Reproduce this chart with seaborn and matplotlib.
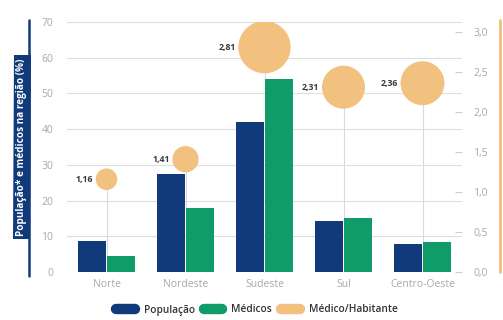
import numpy as np
import pandas as pd
import matplotlib
matplotlib.use("Agg")
import matplotlib.pyplot as plt
import seaborn as sns
from matplotlib.lines import Line2D

regioes = ["Norte", "Nordeste", "Sudeste", "Sul", "Centro-Oeste"]
populacao = [8.7, 27.5, 42.0, 14.3, 7.8]
medicos = [4.5, 18.0, 54.0, 15.2, 8.3]
medico_hab = [1.16, 1.41, 2.81, 2.31, 2.36]
left_ticks = [0, 10, 20, 30, 40, 50, 60, 70]
right_ticks = [0.0, 0.5, 1.0, 1.5, 2.0, 2.5, 3.0]

NAVY = "#103a7a"
GREEN = "#109c68"
ORANGE = "#f2c07f"
GRAY = "#a8a8a8"

sns.set_theme(style="white")
plt.rcParams["font.family"] = ["Open Sans", "DejaVu Sans"]

fig = plt.figure(figsize=(5.03, 3.2), dpi=100)
ax = fig.add_axes([67/503, 1-272/320, (462-67)/503, (272-22)/320])

df = pd.DataFrame({
    "Região": regioes * 2,
    "valor": populacao + medicos,
    "serie": ["População"] * 5 + ["Médicos"] * 5,
})

ax2 = ax.twinx()
ax.set_zorder(2)
ax.patch.set_visible(False)
ax2.set_zorder(1)

for i, v in enumerate(medico_hab):
    ax.plot([i, i], [0, v * 70 / 3.125], color="#d9d9d9", lw=0.8, zorder=0.5)

sns.barplot(data=df, x="Região", y="valor", hue="serie",
            palette=[NAVY, GREEN], width=0.74, gap=0.05, ax=ax,
            legend=False, zorder=3, edgecolor="none", saturation=1)

# bubbles (Médico/Habitante), scaled onto the right axis range
areas = [(13.4 * v) ** 2 for v in medico_hab]
bdf = pd.DataFrame({"x": list(range(5)), "y": [v * 70 / 3.125 for v in medico_hab], "a": areas})
sns.scatterplot(data=bdf, x="x", y="y", size="a", sizes=(min(areas), max(areas)),
                color=ORANGE, edgecolor="none", ax=ax, legend=False, zorder=5, alpha=1)
for i, v in enumerate(medico_hab):
    r = 6.7 * v
    ax.annotate(f"{v:.2f}".replace(".", ","), (i, v * 70 / 3.125),
                xytext=(-(r + 2), 0), textcoords="offset points",
                ha="right", va="center", fontsize=6.3, fontweight="bold",
                color="#3a3a3a", zorder=6)

ax.set_ylim(0, 70)
ax.set_xlim(-0.5, 4.5)
ax.set_xticks(range(5))
ax.set_xticklabels(regioes)
ax.set_yticks(left_ticks)
ax.set_yticklabels([str(t) for t in left_ticks], color=GRAY, fontsize=7.5)
ax.yaxis.grid(True, color="#dedede", lw=0.8)
ax.set_axisbelow(True)
ax.tick_params(axis="y", length=0, pad=10)
ax.tick_params(axis="x", length=0, pad=5, labelsize=7.5, labelcolor=GRAY)
ax.set_xlabel("")
ax.set_ylabel("")
for s in ax.spines.values():
    s.set_visible(False)

ax2.set_ylim(0, 3.125)
ax2.set_yticks(right_ticks)
ax2.set_yticklabels([f"{t:.1f}".replace(".", ",") for t in right_ticks],
                    color=GRAY, fontsize=7.5)
ax2.tick_params(axis="y", direction="in", length=5, width=0.8, color="#cccccc", pad=8)
for s in ax2.spines.values():
    s.set_visible(False)
ax2.grid(False)
ax2.set_ylabel("")

# left label box & line
fig.add_artist(Line2D([29/503, 29/503], [1-20/320, 1-276/320], color=NAVY, lw=1.8))
fig.text(22/503, 1-147/320, "População* e médicos na região (%)", rotation=90,
         ha="center", va="center", color="white", fontsize=7.2, fontweight="bold",
         bbox=dict(boxstyle="square,pad=0.3", fc=NAVY, ec="none"))
# right orange line
fig.add_artist(Line2D([500/503, 500/503], [1-20/320, 1-272/320], color=ORANGE, lw=2))

handles = [Line2D([0], [0], color=c, lw=7.5, solid_capstyle="round") for c in (NAVY, GREEN, ORANGE)]
fig.legend(handles, ["População", "Médicos", "Médico/Habitante"], loc="center",
           bbox_to_anchor=(257/503, 1-310/320), ncol=3, frameon=False,
           handlelength=1.8, handletextpad=0.9, columnspacing=0.9,
           prop={"size": 7.3, "weight": "semibold"}, labelcolor="#333333")

fig.savefig("out.png", dpi=100)
